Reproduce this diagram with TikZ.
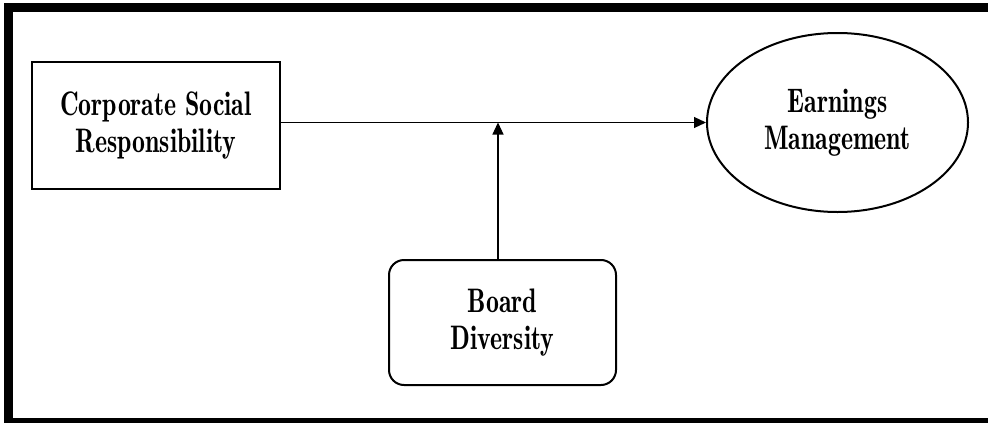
\documentclass[tikz,border=0pt]{standalone}
\usepackage{fontspec}
\setmainfont{lmromandemi10-regular.otf}[FakeStretch=0.76]
\usetikzlibrary{arrows.meta,shapes.geometric}
\begin{document}
\begin{tikzpicture}[x=1pt,y=-1pt,
  lbl/.style={align=center,font=\fontsize{34}{37}\selectfont,inner sep=0pt},
  boxline/.style={draw,line width=2pt},
  conn/.style={line width=1.2pt,-{Triangle[length=12pt,width=11pt]}}]
\useasboundingbox (0,0) rectangle (988,423);
\begin{scope}
\clip (0,0) rectangle (988,423);
\draw[line width=9pt] (8.5,7.5) rectangle (1000,422.5);
\end{scope}
\node[boxline,lbl,minimum width=248pt,minimum height=127pt] (csr) at (156,125.5) {Corporate Social\\Responsibility};
\node[boxline,lbl,ellipse,minimum width=261pt,minimum height=179pt] (em) at (837.5,122.5) {Earnings\\Management};
\node[boxline,lbl,rounded corners=15pt,minimum width=227pt,minimum height=125pt] (bd) at (502.5,322.5) {Board\\Diversity};
\coordinate (mid) at (498,122.5);
\draw[conn] (csr.east |- em.west) -- (em.west);
\draw[conn] (bd.north -| mid) -- (mid);
\end{tikzpicture}
\end{document}
